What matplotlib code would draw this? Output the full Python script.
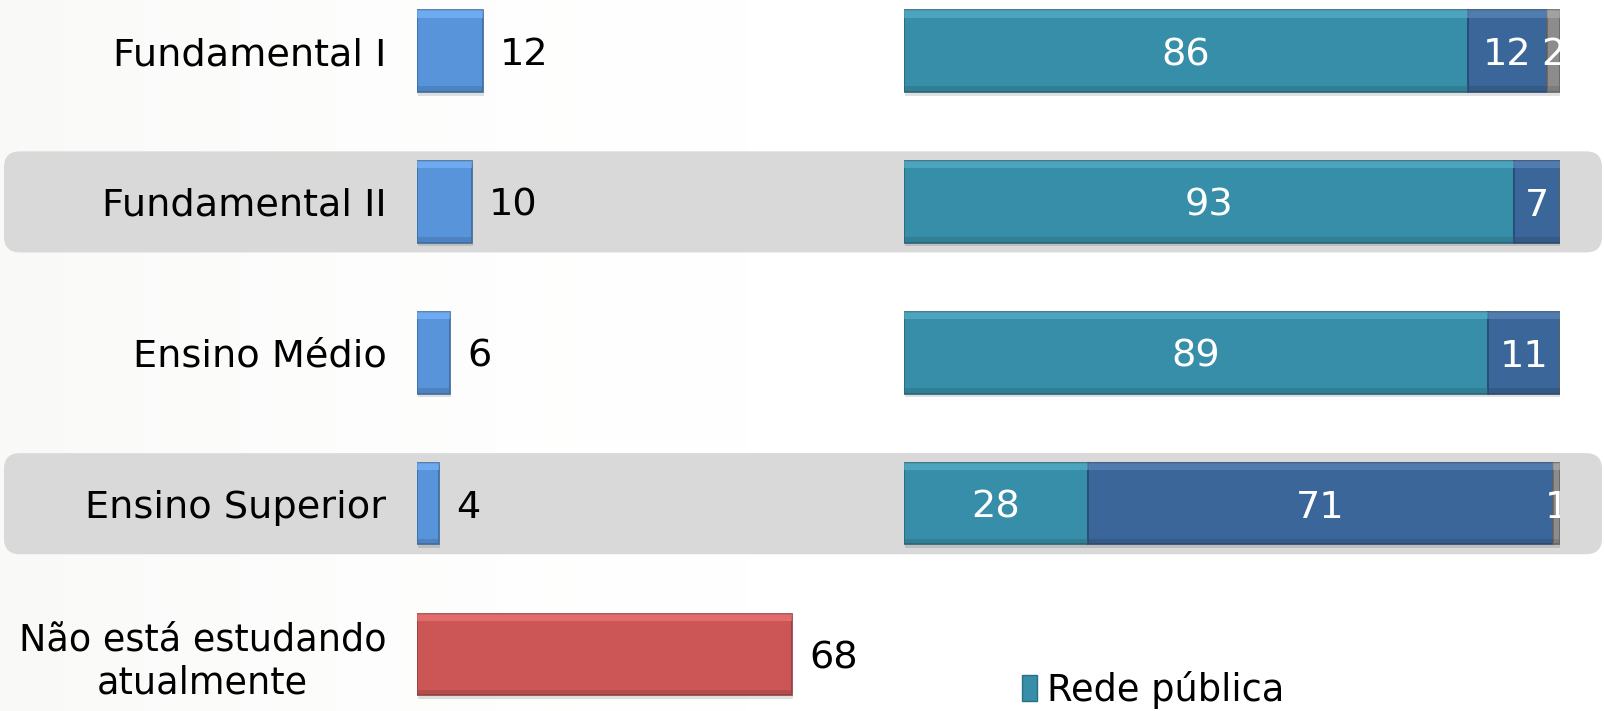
import numpy as np
import matplotlib
matplotlib.use("Agg")
import matplotlib.pyplot as plt
from matplotlib.patches import FancyBboxPatch, Patch
import matplotlib.colors as mcolors

plt.rcParams['font.family'] = ['DejaVu Sans']

# dados
categorias = ['Fundamental I', 'Fundamental II', 'Ensino Médio', 'Ensino Superior',
              'Não está estudando\natualmente']
estudando = [12, 10, 6, 4, 68]
rede_publica = [86, 93, 89, 28]
rede_particular = [12, 7, 11, 71]
outros = [2, 0, 0, 1]
serie_nomes = ['Rede pública', 'Rede particular', 'Outros']

W, H = 1604, 711
FS = 27.5

# mapeamento vertical: centro da linha 0 em 51px, passo 150.9px
passo = 150.9
y_top = -(51 / passo)
y_bot = (H - 51) / passo
ylim = (y_bot, y_top)

c_azul = '#5894DA'
c_verm = '#CC5656'
c_teal = '#378EA8'
c_escuro = '#3B6699'
c_cinza = '#8C8C8C'
cores = [c_teal, c_escuro, c_cinza]


def bevel_barh(ax, y, w, left, h, cor, label=None):
    base = np.array(mcolors.to_rgb(cor))
    claro = np.clip(base + 0.15, 0, 1)
    escuro = base * 0.72
    y = np.asarray(y, dtype=float)
    w = np.asarray(w, dtype=float)
    left = np.asarray(left, dtype=float)
    # sombra
    ax.barh(y + 0.025, w, left=left + 0.15, height=h, color='#000000', alpha=0.12,
            linewidth=0, zorder=2)
    ax.barh(y, w, left=left, height=h, color=cor, edgecolor=escuro, linewidth=1.2,
            zorder=3, label=label)
    # brilho no topo
    ax.barh(y - h / 2 + h * 0.045, w, left=left, height=h * 0.09, color=claro,
            linewidth=0, zorder=4, alpha=0.6)
    # borda inferior mais escura
    ax.barh(y + h / 2 - h * 0.035, w, left=left, height=h * 0.07, color=escuro,
            linewidth=0, zorder=4, alpha=0.4)


fig = plt.figure(figsize=(W / 100, H / 100), dpi=100)
fig.patch.set_facecolor('white')

# fundo
bg = fig.add_axes([0, 0, 1, 1], zorder=0)
bg.set_xlim(0, W)
bg.set_ylim(*ylim)
bg.axis('off')
grad = np.zeros((50, 200, 4))
xx = np.linspace(0, 1, 200)
alpha = np.clip(1 - xx / 0.5, 0, 1) ** 1.5 * 0.22
grad[..., 0] = 0.90
grad[..., 1] = 0.92
grad[..., 2] = 0.88
grad[..., 3] = alpha[None, :]
bg.imshow(grad, extent=(0, W, ylim[0], ylim[1]), aspect='auto', zorder=0)
for i in [1, 3]:
    band = FancyBboxPatch((4, i - 0.335), W - 6, 0.67,
                          boxstyle="round,pad=0,rounding_size=16",
                          mutation_aspect=1 / passo,
                          facecolor='#D9D9D9', edgecolor='none', zorder=1)
    bg.add_patch(band)

# painel esquerdo
px_unid = 5.52
ax1 = fig.add_axes([417 / W, 0, 80 * px_unid / W, 1], zorder=2)
ax1.patch.set_alpha(0)
ax1.set_xlim(0, 80)
ax1.set_ylim(*ylim)
ys = np.arange(len(categorias))
h = 0.54
cores_esq = [c_azul] * 4 + [c_verm]
for i in range(len(categorias)):
    bevel_barh(ax1, [ys[i]], [estudando[i]], [0], h, cores_esq[i])
    ax1.annotate(str(estudando[i]), (estudando[i], ys[i]), xytext=(17, 0),
                 textcoords='offset pixels', ha='left', va='center_baseline',
                 fontsize=FS, color='black')
ax1.set_yticks(ys)
ax1.set_yticklabels(categorias, fontsize=FS, multialignment='center')
ax1.get_yticklabels()[-1].set_fontsize(26.3)
ax1.tick_params(axis='y', length=0, pad=22)
ax1.set_xticks([])
for s in ax1.spines.values():
    s.set_visible(False)

# painel direito
ax2 = fig.add_axes([904 / W, 0, 656 / W, 1], zorder=3)
ax2.patch.set_alpha(0)
ax2.set_xlim(0, 100)
ax2.set_ylim(*ylim)
ys2 = np.arange(len(rede_publica))
left = np.zeros(len(rede_publica))
for serie, cor, nome in zip([rede_publica, rede_particular, outros], cores, serie_nomes):
    vals = np.array(serie, dtype=float)
    bevel_barh(ax2, ys2, vals, left, h, cor, label=nome)
    for j, v in enumerate(vals):
        if v > 0:
            ax2.text(left[j] + v / 2, ys2[j], str(int(v)), ha='center',
                     va='center_baseline', fontsize=FS, color='white', zorder=6,
                     clip_on=True)
    left = left + vals
ax2.axis('off')

# legenda (apenas a primeira série visível)
fig.legend(handles=[Patch(facecolor=c_teal, edgecolor='#2A6F85')], labels=['Rede pública'],
           loc='center left', bbox_to_anchor=(1022 / W, 1 - 690 / H), frameon=False,
           fontsize=26.5, handlelength=0.42, handleheight=0.68, handletextpad=0.25,
           borderpad=0, borderaxespad=0)

fig.savefig('out.png', dpi=100, facecolor='white')
